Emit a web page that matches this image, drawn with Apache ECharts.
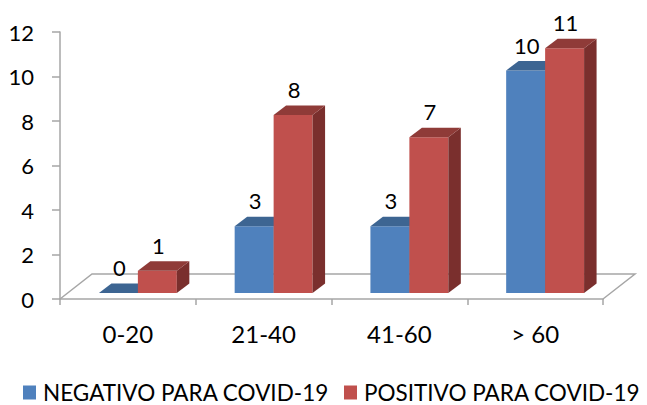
<!DOCTYPE html>
<html>
<head>
<meta charset="utf-8">
<script src="https://cdn.jsdelivr.net/npm/echarts@6/dist/echarts.min.js"></script>
<style>
html,body{margin:0;padding:0;background:#fff;}
#chart{width:647px;height:405px;}
</style>
</head>
<body>
<div id="chart"></div>
<script>
// ---- data ----
const categories = ['0-20', '21-40', '41-60', '> 60'];
const negativo = [0, 3, 3, 10];
const positivo = [1, 8, 7, 11];
const seriesNames = ['NEGATIVO PARA COVID-19', 'POSITIVO PARA COVID-19'];
const yMin = 0, yMax = 12, yStep = 2;

// ---- styling ----
const FONT = 'Lato';
const colors = [
  { front: '#4F81BD', top: '#3D6592', side: '#375C88' },
  { front: '#C0504D', top: '#8F3B38', side: '#7A2F2D' }
];
const DEPTH_DX = 12.5, DEPTH_DY = -9.5;   // bar depth
const PLANE_DX = 10, PLANE_DY = -6;       // bar plane offset from front of floor
const FLOOR_DX = 32, FLOOR_DY = -25;      // floor depth
const BAR_FRAC = 0.287;
const GRAY = '#A6A6A6';

function barRender(si) {
  return function (params, api) {
    const ci = api.value(0), v = api.value(1);
    const p = api.coord([ci, v]);
    const p0 = api.coord([ci, 0]);
    const w = api.size([1, 0])[0] * BAR_FRAC;
    const x0 = p[0] - w + si * w + PLANE_DX;
    const yt = p[1] + PLANE_DY, yb = p0[1] + PLANE_DY;
    const c = colors[si];
    const children = [];
    if (yb - yt > 0) {
      children.push({ type: 'rect', shape: { x: x0, y: yt, width: w, height: yb - yt }, style: { fill: c.front } });
      children.push({ type: 'polygon', shape: { points: [[x0 + w, yt], [x0 + w + DEPTH_DX, yt + DEPTH_DY], [x0 + w + DEPTH_DX, yb + DEPTH_DY], [x0 + w, yb]] }, style: { fill: c.side } });
    }
    children.push({ type: 'polygon', shape: { points: [[x0, yt], [x0 + w, yt], [x0 + w + DEPTH_DX, yt + DEPTH_DY], [x0 + DEPTH_DX, yt + DEPTH_DY]] }, style: { fill: c.top } });
    children.push({ type: 'text', style: { text: String(v), x: x0 + w / 2 + 1, y: yt + DEPTH_DY - 16, align: 'center', verticalAlign: 'middle', font: '22px ' + FONT, fill: '#000' } });
    return { type: 'group', children: children };
  };
}

function floorRender(params, api) {
  const cs = params.coordSys;
  const xl = cs.x, xr = cs.x + cs.width, yf = cs.y + cs.height;
  return {
    type: 'polyline',
    shape: { points: [[xl, yf], [xl + FLOOR_DX, yf + FLOOR_DY], [xr + FLOOR_DX, yf + FLOOR_DY], [xr, yf]] },
    style: { stroke: GRAY, lineWidth: 1.5, fill: null }
  };
}

const chart = echarts.init(document.getElementById('chart'), null, { renderer: 'svg' });
chart.setOption({
  animation: false,
  backgroundColor: '#fff',
  grid: { left: 60, top: 32, width: 543, height: 267 },
  legend: {
    data: seriesNames,
    left: 23, top: 381, padding: 0, width: 624,
    itemWidth: 13, itemHeight: 14, itemGap: 15,
    icon: 'rect',
    textStyle: { fontFamily: FONT, fontSize: 22.5, color: '#000', padding: [0, 0, 0, 2] }
  },
  xAxis: {
    type: 'category',
    data: categories,
    axisLine: { lineStyle: { color: GRAY, width: 1.5 } },
    axisTick: { show: true, length: 6, lineStyle: { color: GRAY, width: 1.5 } },
    axisLabel: { fontFamily: FONT, fontSize: 24, color: '#000', margin: 22 },
    splitLine: { show: false }
  },
  yAxis: {
    type: 'value',
    min: yMin, max: yMax, interval: yStep,
    axisLine: { show: true, lineStyle: { color: GRAY, width: 1.5 } },
    axisTick: { show: true, length: 8, lineStyle: { color: GRAY, width: 1.5 } },
    axisLabel: { fontFamily: FONT, fontSize: 22, color: '#000', margin: 26 },
    splitLine: { show: false }
  },
  series: [
    { type: 'custom', name: '_floor', renderItem: floorRender, data: [[0, 0]], silent: true, z: 1 },
    { type: 'custom', name: seriesNames[0], itemStyle: { color: colors[0].front }, renderItem: barRender(0), data: negativo.map((v, i) => [i, v]), z: 2 },
    { type: 'custom', name: seriesNames[1], itemStyle: { color: colors[1].front }, renderItem: barRender(1), data: positivo.map((v, i) => [i, v]), z: 3 }
  ]
});
</script>
</body>
</html>
